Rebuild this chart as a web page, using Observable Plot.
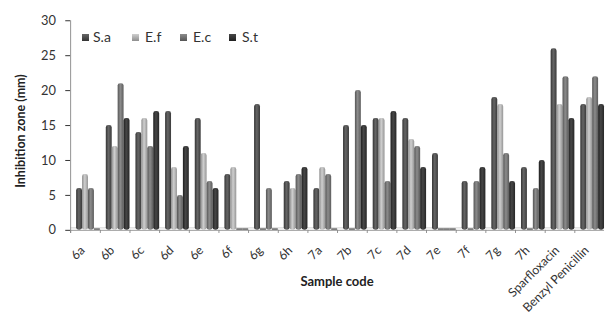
<!DOCTYPE html>
<html>
<head>
<meta charset="utf-8">
<script src="https://cdn.jsdelivr.net/npm/d3@7"></script>
<script src="https://cdn.jsdelivr.net/npm/@observablehq/plot@0.6"></script>
<style>
  html, body { margin: 0; padding: 0; background: #fff; }
  #wrap { position: relative; width: 607px; height: 321px; overflow: hidden; font-family: Lato, "Open Sans", sans-serif; color: #333; }
  #chart { position: absolute; left: 0; top: 0; }
  .lg-sw { position: absolute; width: 7px; height: 7px; top: 34px; }
  .lg-tx { position: absolute; top: 28px; font-size: 14px; line-height: 18px; color: #333; }
  #ylab { position: absolute; left: 20px; top: 131px; transform: translate(-50%, -50%) rotate(-90deg); white-space: nowrap; font-weight: bold; font-size: 12.5px; color: #222; }
  #xlab { position: absolute; left: 337px; top: 281px; transform: translate(-50%, -50%); white-space: nowrap; font-weight: bold; font-size: 13px; color: #222; }
</style>
</head>
<body>
<div id="wrap">
  <div id="chart"></div>
  <div id="ylab">Inhibition zone (mm)</div>
  <div id="xlab">Sample code</div>
</div>
<script>
const categories = ["6a","6b","6c","6d","6e","6f","6g","6h","7a","7b","7c","7d","7e","7f","7g","7h","Sparfloxacin","Benzyl Penicillin"];
const seriesNames = ["S.a","E.f","E.c","S.t"];
const Sa = [6,15,14,17,16,8,18,7,6,15,16,16,11,7,19,9,26,18];
const Ef = [8,12,16,9,11,9,0,6,9,0,16,13,0,0,18,0,18,19];
const Ec = [6,21,12,5,7,0,6,8,8,20,7,12,0,7,11,6,22,22];
const St = [0,16,17,12,6,0,0,9,0,15,17,9,0,9,7,10,16,18];
const yTicks = [0,5,10,15,20,25,30];

const seriesValues = [Sa, Ef, Ec, St];
const gradIds = ["gSa","gEf","gEc","gSt"];
const gradStops = [
  ["#343434","#666666","#3a3a3a"],
  ["#8e8e8e","#cfcfcf","#969696"],
  ["#555555","#8c8c8c","#5c5c5c"],
  ["#1f1f1f","#474747","#262626"]
];

const W = 614, ML = 67;
const bandW = (W - ML) / categories.length / (seriesNames.length + 1);

const barMarks = seriesNames.map((s, k) =>
  Plot.barY(categories, {
    fx: d => d,
    x: () => s,
    y: (d, i) => seriesValues[k][i],
    fill: `url(#${gradIds[k]})`,
    rx: 2.5
  })
);

// flat slabs on the floor for zero values (3D look of the original)
const zeroMarks = seriesNames.map((s, k) =>
  Plot.barY(categories.filter((d, i) => seriesValues[k][i] === 0), {
    fx: d => d,
    x: () => s,
    y1: 0,
    y2: 0.22,
    fill: "#6a6a6a"
  })
);

const chart = Plot.plot({
  width: W,
  height: 321,
  marginLeft: ML,
  marginRight: 0,
  marginTop: 20.5,
  marginBottom: 88.5,
  style: { fontFamily: "Lato, 'Open Sans', sans-serif", fontSize: "13px", color: "#333", background: "transparent" },
  fx: { domain: categories, padding: 0, axis: null },
  x: { domain: ["_", ...seriesNames], padding: 0, axis: null },
  y: { domain: [0, 30], ticks: yTicks, tickSize: 5, tickPadding: 10, label: null },
  marks: [
    Plot.ruleY([0.35], { stroke: "#d0d0d0" }),
    Plot.ruleY([0], { stroke: "#9a9a9a" }),
    // tick marks at category boundaries (1px bars at the left edge of each facet)
    Plot.barY(categories, { fx: d => d, x: () => "_", y1: 0, y2: -0.45, insetRight: bandW - 1, fill: "#888" }),
    // y axis line
    Plot.barY(["6a"], { fx: d => d, x: () => "_", y1: -0.45, y2: 30, insetRight: bandW - 1, fill: "#888" }),
    ...zeroMarks,
    ...barMarks,
    Plot.text(categories, {
      fx: d => d,
      text: d => d,
      frameAnchor: "bottom",
      dy: 21,
      rotate: -45,
      textAnchor: "end",
      fontSize: 12.5,
      fill: "#333"
    })
  ]
});

document.getElementById("chart").appendChild(chart);

// gradients for the cylinder-like bars
const svg = d3.select(chart.tagName.toLowerCase() === "svg" ? chart : chart.querySelector("svg"));
const defs = svg.insert("defs", ":first-child");
gradIds.forEach((id, k) => {
  const g = defs.append("linearGradient").attr("id", id).attr("x1", 0).attr("x2", 1).attr("y1", 0).attr("y2", 0);
  g.append("stop").attr("offset", "0%").attr("stop-color", gradStops[k][0]);
  g.append("stop").attr("offset", "45%").attr("stop-color", gradStops[k][1]);
  g.append("stop").attr("offset", "100%").attr("stop-color", gradStops[k][2]);
});

// legend inside the plot area
const wrap = document.getElementById("wrap");
const swX = [82, 132, 180, 229];
const txX = [93, 145, 193, 242];
seriesNames.forEach((s, k) => {
  const sw = document.createElement("div");
  sw.className = "lg-sw";
  sw.style.left = swX[k] + "px";
  sw.style.background = `linear-gradient(${gradStops[k][1]}, ${gradStops[k][0]})`;
  wrap.appendChild(sw);
  const tx = document.createElement("div");
  tx.className = "lg-tx";
  tx.style.left = txX[k] + "px";
  tx.textContent = s;
  wrap.appendChild(tx);
});
</script>
</body>
</html>
